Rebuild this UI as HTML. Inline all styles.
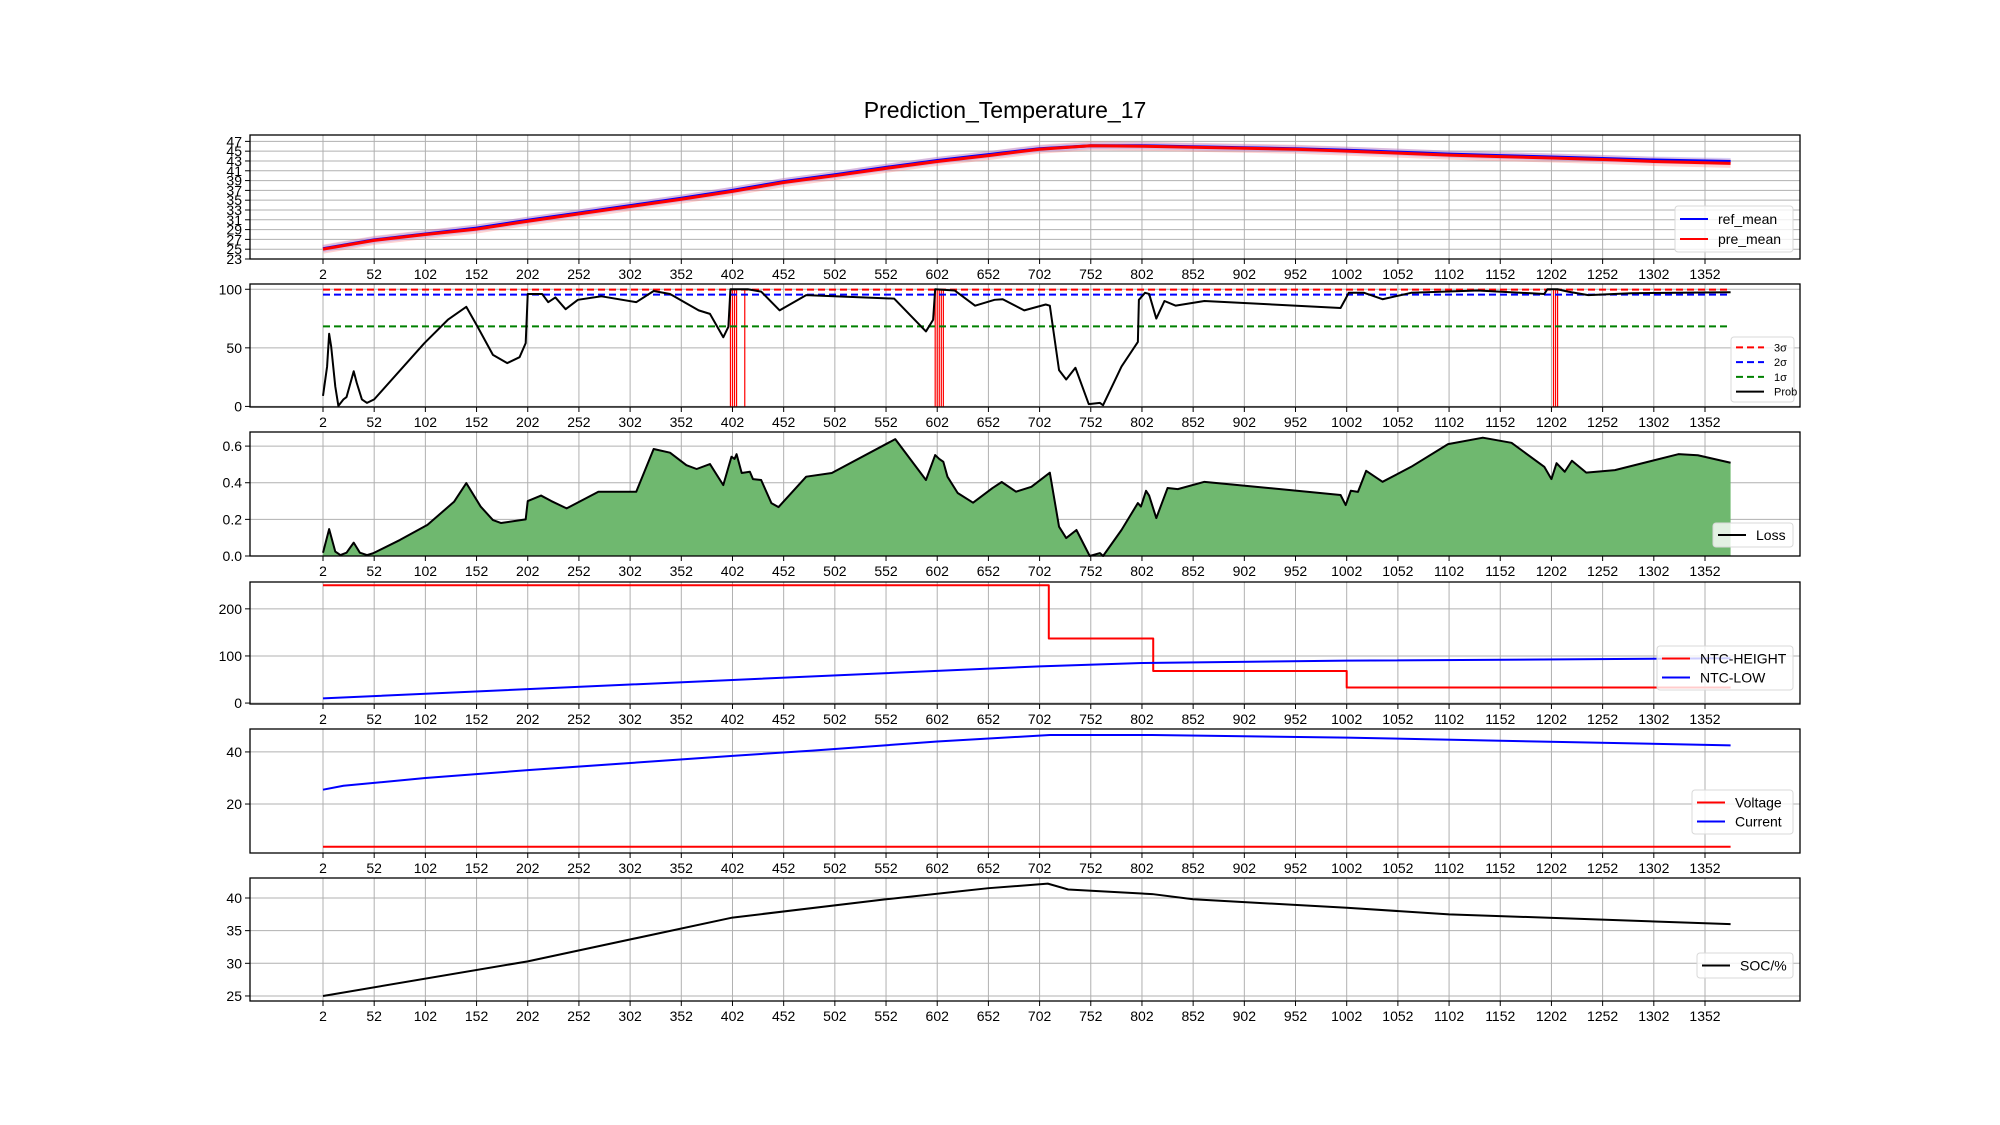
<!DOCTYPE html>
<html><head><meta charset="utf-8"><style>
html,body{margin:0;padding:0;background:#fff;}
svg{display:block;font-family:"Liberation Sans","DejaVu Sans",sans-serif;}
</style></head><body>
<svg id="fig" width="2000" height="1125" viewBox="0 0 2000 1125" xmlns="http://www.w3.org/2000/svg">
<text x="1005" y="118" font-size="23" text-anchor="middle" fill="#000">Prediction_Temperature_17</text>
<g id="root"></g>
</svg>
<script>
// ---- data ----
const xTicks = [2,52,102,152,202,252,302,352,402,452,502,552,602,652,702,752,802,852,902,952,1002,1052,1102,1152,1202,1252,1302,1352];
const tempX = [2,52,102,152,202,252,302,352,402,452,502,552,602,652,702,752,802,852,902,952,1002,1052,1102,1152,1202,1252,1302,1377];
const refMean = [25.1,26.9,28.1,29.3,30.9,32.4,33.9,35.4,37.0,38.8,40.2,41.7,43.1,44.3,45.5,46.1,46.1,45.9,45.7,45.5,45.2,44.8,44.4,44.1,43.8,43.5,43.2,42.9];
const preMean = [25.0,26.8,28.0,29.1,30.7,32.2,33.7,35.2,36.8,38.6,40.0,41.5,42.9,44.1,45.4,46.1,46.0,45.8,45.6,45.4,45.0,44.6,44.2,43.9,43.6,43.3,42.9,42.5];
const tempTicks = [23,25,27,29,31,33,35,37,39,41,43,45,47];

const probX = [2,6,8,10,14,17,22,25,32,35,40,45,52,101,124,142,153,168,182,194,200,202,216,222,229,239,251,274,308,325,341,369,380,393,398,400,417,430,448,474,560,591,598,600,619,639,658,666,687,708,712,721,728,737,750,761,764,782,798,799,805,809,816,824,835,863,996,1001,1004,1019,1037,1065,1130,1195,1198,1208,1218,1238,1280,1377];
const probV = [9,34,62,51,17,0.5,6,8,30,20,6,3,6,54,74,85,68,44,37,42,54,96,96,89,93,83,91,94,89,98.5,96,82,79,59,68,100,100,98,82,95,92,64,74,100,99,86,91,91.5,82,87,86,31,23,33,2,3,1,34,55,91,97,96,75,90,86,90,84,92,97,97,91.5,97,99,96,100,100,98,95,96.6,97.5];
const sigmaLabels = ['3σ','2σ','1σ'];
const sigmaValues = [99.7,95.4,68.3];
const anomalyX = [400,402,404,406,414,600,602,604,606,608,1204,1206,1208];
const probTicks = [0,50,100];

const lossX = [2,8,14,19,25,32,38,45,51,77,104,130,142,156,168,176,200,202,215,225,240,271,308,325,341,357,367,380,393,401,404,406,411,419,422,430,440,447,474,499,561,591,600,604,608,612,622,637,656,665,679,694,712,721,728,738,751,761,764,782,798,801,806,809,816,827,837,863,996,1001,1006,1013,1021,1037,1065,1101,1135,1163,1195,1202,1207,1215,1222,1236,1264,1326,1345,1377];
const lossV = [0.018,0.147,0.024,0.005,0.018,0.073,0.018,0.005,0.015,0.087,0.17,0.296,0.398,0.27,0.196,0.18,0.2,0.30,0.33,0.30,0.26,0.351,0.351,0.584,0.564,0.496,0.475,0.502,0.387,0.542,0.53,0.556,0.453,0.46,0.42,0.415,0.289,0.267,0.433,0.453,0.638,0.415,0.551,0.53,0.514,0.433,0.344,0.291,0.371,0.404,0.351,0.378,0.455,0.16,0.098,0.142,0.0,0.016,0.0,0.142,0.289,0.27,0.356,0.33,0.207,0.371,0.365,0.405,0.333,0.278,0.356,0.35,0.465,0.405,0.487,0.611,0.646,0.618,0.487,0.42,0.507,0.46,0.52,0.455,0.469,0.556,0.55,0.509];
const lossTicks = [0.0,0.2,0.4,0.6];

const ntcHighX = [2,711,711,813,813,1002,1002,1377];
const ntcHighV = [250,250,137,137,68,68,33,33];
const ntcLowX = [2,402,702,802,1002,1377];
const ntcLowV = [10,49,78,85,90,95];
const ntcTicks = [0,100,200];

const curX = [2,22,102,202,402,480,602,712,812,1002,1377];
const currentV = [25.5,27,30,33,38.5,40.5,44,46.5,46.5,45.5,42.5];
const voltX = [2,1377];
const voltageV = [3.6,3.6];
const vcTicks = [20,40];

const socX = [2,202,402,552,652,710,730,812,852,1002,1102,1377];
const socV = [25,30.3,37,39.8,41.5,42.2,41.3,40.6,39.8,38.5,37.5,36];
const socTicks = [25,30,35,40];

// ---- layout ----
const NS = 'http://www.w3.org/2000/svg';
const root = document.getElementById('root');
const X0 = 250, X1 = 1800;
const sx = v => 323 + (v - 2) * 1.0237;
function mk(tag, attrs, parent){
  const e = document.createElementNS(NS, tag);
  for (const k in attrs) e.setAttribute(k, attrs[k]);
  (parent || root).appendChild(e);
  return e;
}
function panel(name, top, bot, ymin, ymax, yticks, fmt, ytFont){
  const g = mk('g', {});
  
  
  const sy = v => bot - (v - ymin) / (ymax - ymin) * (bot - top);
  const grid = mk('g', {}, g);
  
  
  xTicks.forEach(t => {
    mk('line', {x1:sx(t), x2:sx(t), y1:top, y2:bot, stroke:'#b0b0b0', 'stroke-width':1}, grid);
    mk('line', {x1:sx(t), x2:sx(t), y1:bot, y2:bot+5, stroke:'#000', 'stroke-width':1}, g);
    const tx = mk('text', {x:sx(t), y:bot+20, 'font-size':14, 'text-anchor':'middle', fill:'#000'}, g);
    
    
    tx.textContent = t;
  });
  yticks.forEach(t => {
    mk('line', {x1:X0, x2:X1, y1:sy(t), y2:sy(t), stroke:'#b0b0b0', 'stroke-width':1}, grid);
    mk('line', {x1:X0-5, x2:X0, y1:sy(t), y2:sy(t), stroke:'#000', 'stroke-width':1}, g);
    const tx = mk('text', {x:X0-8, y:sy(t)+5, 'font-size':ytFont||14, 'text-anchor':'end', fill:'#000'}, g);
    
    
    tx.textContent = fmt ? fmt(t) : t;
  });
  const plot = mk('g', {}, g);
  const frame = mk('rect', {x:X0, y:top, width:X1-X0, height:bot-top, fill:'none', stroke:'#000', 'stroke-width':1.3}, g);
  
  
  return {g, plot, sy, top, bot};
}
function pathD(xs, vs, sy){ return xs.map((x,i)=>(i?'L':'M')+sx(x).toFixed(2)+','+sy(vs[i]).toFixed(2)).join(' '); }
function line(p, xs, vs, color, w, name, extra){
  const e = mk('path', Object.assign({d:pathD(xs,vs,p.sy), fill:'none', stroke:color, 'stroke-width':w, 'stroke-linejoin':'round'}, extra||{}), p.plot);
  
  
  return e;
}
function legend(p, x, y, w, h, items, font){
  const lg = mk('g', {}, p.g);
  
  
  mk('rect', {x, y, width:w, height:h, rx:3, fill:'#fff', 'fill-opacity':0.8, stroke:'#d8d8d8'}, lg);
  const step = (h - 6) / items.length;
  items.forEach((it, i) => {
    const cy = y + 3 + step*(i+0.5);
    const ent = mk('g', {}, lg);
    
    
    mk('line', {x1:x+5, x2:x+33, y1:cy, y2:cy, stroke:it[1], 'stroke-width':2, 'stroke-dasharray':it[2]||''}, ent);
    const t = mk('text', {x:x+43, y:cy+font*0.36, 'font-size':font, fill:'#000'}, ent);
    t.textContent = it[0];
  });
}

// Panel 1: temperatures
const p1 = panel('temperature-panel', 135, 259, 23, 48.3, tempTicks, null, 14);
line(p1, tempX, preMean, '#ff8080', 9, 'pre-band', {'stroke-opacity':0.35});
line(p1, tempX, refMean, '#8080ff', 7, 'ref-band', {'stroke-opacity':0.3});
line(p1, tempX, refMean, '#0000ff', 3, 'ref-mean-line');
line(p1, tempX, preMean, '#ff0000', 3, 'pre-mean-line');
legend(p1, 1675, 206, 118, 46, [['ref_mean','#0000ff'],['pre_mean','#ff0000']], 14);

// Panel 2: probability
const p2 = panel('probability-panel', 284, 407, -0.5, 104.5, probTicks, null, 14);
anomalyX.forEach(a => {
  const l = mk('line', {x1:sx(a), x2:sx(a), y1:p2.sy(0), y2:p2.sy(100), stroke:'#ff0000', 'stroke-width':1.2}, p2.plot);
  
  
});
const sigColors = ['#ff0000','#0000ff','#008000'];
sigmaValues.forEach((v,i) => {
  line(p2, [2,1377], [v,v], sigColors[i], 2, 'sigma-line-' + (i+1), {'stroke-dasharray':'7,4'});
});
line(p2, probX, probV, '#000', 2, 'prob-line');
legend(p2, 1731, 337, 63, 65, [[sigmaLabels[0],'#ff0000','7,4'],[sigmaLabels[1],'#0000ff','7,4'],[sigmaLabels[2],'#008000','7,4'],['Prob','#000']], 11);

// Panel 3: loss
const p3 = panel('loss-panel', 432, 556, 0, 0.677, lossTicks, v=>v.toFixed(1), 14);
const area = mk('path', {d: pathD(lossX, lossV, p3.sy) + ` L${sx(lossX[lossX.length-1])},${p3.sy(0)} L${sx(lossX[0])},${p3.sy(0)} Z`, fill:'#6fb86f'}, p3.plot);


line(p3, lossX, lossV, '#000', 2, 'loss-line');
legend(p3, 1713, 523, 80, 24, [['Loss','#000']], 14);

// Panel 4: NTC
const p4 = panel('ntc-panel', 582, 704, -2, 257, ntcTicks, null, 14);
line(p4, ntcHighX, ntcHighV, '#ff0000', 2, 'ntc-height-line');
line(p4, ntcLowX, ntcLowV, '#0000ff', 2, 'ntc-low-line');
legend(p4, 1657, 646, 136, 44, [['NTC-HEIGHT','#ff0000'],['NTC-LOW','#0000ff']], 14);

// Panel 5: voltage/current
const p5 = panel('voltage-current-panel', 729, 853, 1.2, 48.8, vcTicks, null, 14);
line(p5, voltX, voltageV, '#ff0000', 2, 'voltage-line');
line(p5, curX, currentV, '#0000ff', 2, 'current-line');
legend(p5, 1692, 790, 101, 44, [['Voltage','#ff0000'],['Current','#0000ff']], 14);

// Panel 6: SOC
const p6 = panel('soc-panel', 878, 1001, 24.23, 43.06, socTicks, null, 14);
line(p6, socX, socV, '#000', 2, 'soc-line');
legend(p6, 1697, 953, 96, 25, [['SOC/%','#000']], 14);
</script>
</body></html>
